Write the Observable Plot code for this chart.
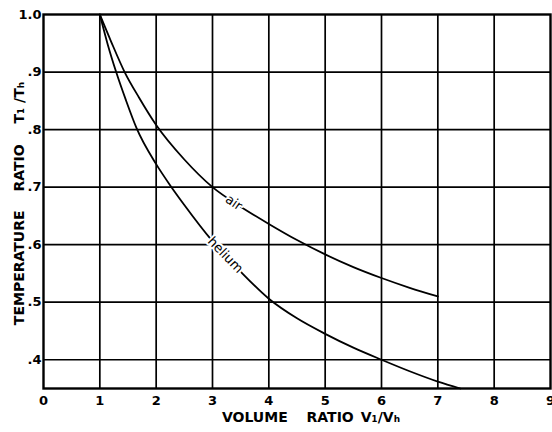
<!DOCTYPE html>
<html>
<head>
<meta charset="utf-8">
<script src="https://cdn.jsdelivr.net/npm/d3@7"></script>
<script src="https://cdn.jsdelivr.net/npm/@observablehq/plot@0.6"></script>
<style>
  html, body { margin: 0; padding: 0; background: #fff; }
  #chart svg { display: block; }
</style>
</head>
<body>
<div id="chart"></div>
<script>
// ---- data ----
const airX = [1, 1.2, 1.44, 1.7, 2, 2.5, 3, 3.5, 4, 4.5, 5, 5.5, 6, 6.5, 7];
const airY = [1.0, 0.953, 0.9, 0.855, 0.808, 0.748, 0.700, 0.666, 0.636, 0.608, 0.583, 0.561, 0.542, 0.525, 0.510];
const heliumX = [1, 1.14, 1.29, 1.46, 1.65, 2, 2.25, 2.5, 3, 3.5, 4, 4.5, 5, 5.5, 6, 6.5, 7, 7.4];
const heliumY = [1.0, 0.948, 0.9, 0.852, 0.803, 0.740, 0.703, 0.669, 0.606, 0.553, 0.506, 0.472, 0.445, 0.421, 0.400, 0.380, 0.362, 0.350];

const xTicks = [0, 1, 2, 3, 4, 5, 6, 7, 8, 9];
const xTickLabels = ["0", "1", "2", "3", "4", "5", "6", "7", "8", "9"];
const yTicks = [0.4, 0.5, 0.6, 0.7, 0.8, 0.9, 1.0];
const yTickLabels = [".4", ".5", ".6", ".7", ".8", ".9", "1.0"];

const xLabel = "VOLUME\u2003 RATIO\u2002V\u2081/V\u2095";
const yLabel = "TEMPERATURE\u2003 RATIO\u2003\u2002T\u2081 /T\u2095";

const curveLabels = [
  {name: "air", x: 3.38, y: 0.673, rotate: 35},
  {name: "helium", x: 3.23, y: 0.582, rotate: 46}
];

// ---- build tables ----
const air = airX.map((x, i) => ({x, y: airY[i]}));
const helium = heliumX.map((x, i) => ({x, y: heliumY[i]}));
const xFmt = new Map(xTicks.map((d, i) => [d, xTickLabels[i]]));
const yFmt = new Map(yTicks.map((d, i) => [d, yTickLabels[i]]));

const font = "'DejaVu Sans', Verdana, sans-serif";

const chart = Plot.plot({
  width: 552,
  height: 432,
  marginLeft: 43,
  marginRight: 2,
  marginTop: 14,
  marginBottom: 44,
  style: {background: "#fff", fontFamily: font, color: "#000"},
  x: {domain: [0, 9]},
  y: {domain: [0.35, 1.0]},
  marks: [
    Plot.gridX(xTicks.slice(1, -1), {stroke: "#000", strokeOpacity: 1, strokeWidth: 1.7}),
    Plot.gridY(yTicks.slice(0, -1), {stroke: "#000", strokeOpacity: 1, strokeWidth: 1.7}),
    Plot.frame({stroke: "#000", strokeWidth: 2.4}),
    Plot.line(air, {x: "x", y: "y", curve: "monotone-x", stroke: "#000", strokeWidth: 1.8}),
    Plot.line(helium, {x: "x", y: "y", curve: "monotone-x", stroke: "#000", strokeWidth: 1.8}),
    Plot.text(curveLabels, {
      x: "x", y: "y", text: "name", rotate: "rotate",
      fontSize: 13, fill: "#000", stroke: "#fff", strokeWidth: 4,
      fontFamily: font
    }),
    Plot.axisX(xTicks, {
      tickSize: 0, tickPadding: 7, fontSize: 13, fontWeight: "bold",
      tickFormat: d => xFmt.get(d), label: null
    }),
    Plot.axisY(yTicks, {
      tickSize: 0, tickPadding: 2, fontSize: 13, fontWeight: "bold",
      tickFormat: d => yFmt.get(d), label: null
    }),
    Plot.text([xLabel], {
      text: d => d, frameAnchor: "bottom", lineAnchor: "middle", textAnchor: "middle",
      dy: 29, dx: 14, fontSize: 14, fontWeight: "bold", fill: "#000"
    }),
    Plot.text([yLabel], {
      text: d => d, frameAnchor: "left", lineAnchor: "middle", textAnchor: "middle",
      dx: -24, dy: 2, rotate: -90, fontSize: 14, fontWeight: "bold", fill: "#000"
    })
  ]
});

document.getElementById("chart").appendChild(chart);
</script>
</body>
</html>
